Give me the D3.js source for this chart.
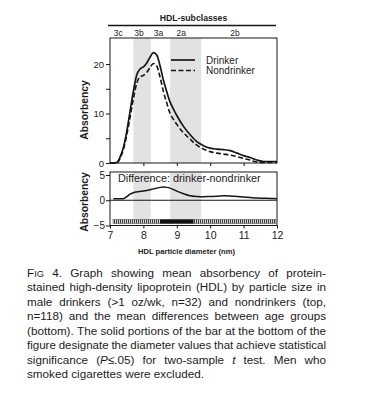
<!doctype html>
<html lang="en">
  <head>
    <meta charset="utf-8">
    <title>HDL particle size, drinkers vs nondrinkers</title>
    <script src="https://d3js.org/d3.v7.min.js"></script>
    <style>
      body { margin: 0; background: #fff; }
      svg text { font-family: "Liberation Sans", Arial, sans-serif; fill: #1c1c1c; }
    </style>
  </head>
  <body>
    <div id="chart"></div>
    <script>

      // values
      const diameter   = [7.0, 7.1, 7.2, 7.3, 7.4, 7.5, 7.6, 7.7, 7.8, 7.9, 8.0, 8.1, 8.2, 8.3, 8.4, 8.5, 8.6, 8.7, 8.8, 8.9, 9.0, 9.2, 9.4, 9.6, 9.8, 10.0, 10.2, 10.4, 10.6, 10.8, 11.0, 11.2, 11.4, 11.6, 11.8, 12.0];
      const drinker    = [0, 0, 0.1, 1.2, 3.1, 6.3, 10.4, 14.5, 17.8, 19.0, 19.4, 20.2, 21.4, 22.3, 21.8, 19.6, 16.7, 14.4, 12.3, 10.9, 9.6, 7.4, 5.7, 4.3, 3.5, 3.0, 2.8, 2.7, 2.5, 2.0, 1.5, 1.1, 0.6, 0.3, 0.3, 0.3];
      const nondrinker = [0, 0, 0, 0.9, 2.7, 5.6, 9.2, 13.0, 16.1, 17.4, 17.7, 18.3, 19.3, 20.1, 19.6, 17.3, 14.4, 12.1, 10.0, 8.8, 7.8, 6.1, 4.8, 3.6, 2.8, 2.3, 2.0, 1.8, 1.6, 1.3, 0.9, 0.6, 0.2, 0.1, 0.1, 0.1];

      const diffDiameter = [7.1, 7.4, 7.5, 7.6, 7.7, 7.8, 7.9, 8.0, 8.1, 8.2, 8.3, 8.4, 8.5, 8.6, 8.7, 8.8, 8.9, 9.0, 9.2, 9.4, 9.6, 9.8, 10.0, 10.2, 10.4, 10.6, 10.8, 11.0, 11.2, 11.4, 11.6, 11.8, 12.0];
      const difference   = [0.3, 0.3, 0.7, 1.2, 1.5, 1.65, 1.75, 1.85, 1.95, 2.1, 2.25, 2.4, 2.55, 2.6, 2.55, 2.4, 2.1, 1.8, 1.3, 0.9, 0.75, 0.7, 0.75, 0.8, 0.9, 0.85, 0.75, 0.65, 0.55, 0.45, 0.4, 0.35, 0.3];

      const subclassNames   = ["3c", "3b", "3a", "2a", "2b"];
      const subclassCenters = [7.25, 7.87, 8.45, 9.13, 10.74];
      const shadedBands     = [[7.7, 8.22], [8.8, 9.73]];
      const significant     = [[8.5, 9.5]];

      const xTicks      = [7, 8, 9, 10, 11, 12];
      const topTicks    = [0, 5, 10, 15, 20];
      const topLabels   = [0, 10, 20];
      const bottomTicks = [-5, 0, 5];

      const caption = [
        "F^IG^ 4.  Graph showing mean absorbency of protein-",
        "stained high-density lipoprotein (HDL) by particle size in",
        "male drinkers (>1 oz/wk, n=32) and nondrinkers (top,",
        "n=118) and the mean differences between age groups",
        "(bottom). The solid portions of the bar at the bottom of the",
        "figure designate the diameter values that achieve statistical",
        "significance (*P*≤.05) for two-sample *t* test. Men who",
        "smoked cigarettes were excluded."
      ];

      const W = 374, H = 400;
      const ink = "#161616";

      const svg = d3.select("#chart").append("svg")
        .attr("width", W)
        .attr("height", H)
        .attr("viewBox", `0 0 ${W} ${H}`);

      svg.append("rect").attr("width", W).attr("height", H).attr("fill", "#fff");

      // scales
      const x = d3.scaleLinear().domain([7, 12]).range([110, 277]);
      const yTop = d3.scaleLinear().domain([0, 20]).range([163, 64]);
      const yBot = d3.scaleLinear().domain([-5, 5]).range([225.5, 175]);

      const topBox = {y0: 38, y1: 163};
      const botBox = {y0: 172, y1: 225.5};

      // shaded subclass bands
      [topBox, botBox].forEach((b, i) => {
        svg.selectAll(null)
          .data(shadedBands)
          .enter()
          .append("rect")
            .attr("x", d => x(d[0]))
            .attr("width", d => x(d[1]) - x(d[0]))
            .attr("y", b.y0)
            .attr("height", (i == 0 ? b.y1 : 219.5) - b.y0)
            .attr("fill", "#e2e2e2");
      });

      // HDL-subclasses header
      svg.append("text")
        .attr("x", (x(7) + x(12)) / 2)
        .attr("y", 21)
        .attr("text-anchor", "middle")
        .attr("font-size", "8.7px")
        .attr("font-weight", "bold")
        .text("HDL-subclasses");
      svg.append("line")
        .attr("x1", x(7) - 2).attr("x2", x(12) - 1)
        .attr("y1", 25.5).attr("y2", 25.5)
        .attr("stroke", ink).attr("stroke-width", 1.3);
      svg.selectAll(null)
        .data(subclassNames)
        .enter()
        .append("text")
          .attr("x", (d, i) => x(subclassCenters[i]))
          .attr("y", 35.5)
          .attr("text-anchor", "middle")
          .attr("font-size", "8.5px")
          .text(d => d);

      // frames
      [topBox, botBox].forEach(b => {
        svg.append("rect")
          .attr("x", x(7)).attr("y", b.y0)
          .attr("width", x(12) - x(7)).attr("height", b.y1 - b.y0)
          .attr("fill", "none")
          .attr("stroke", ink)
          .attr("stroke-width", 1);
      });

      // top axes
      const topY = svg.append("g")
        .attr("transform", `translate(${x(7)},0)`)
        .call(d3.axisLeft(yTop).tickValues(topTicks).tickSize(4)
          .tickFormat(d => topLabels.includes(d) ? d : ""));
      topY.select(".domain").remove();
      topY.selectAll("text").attr("font-size", "9.5px").attr("x", -6);

      const topX = svg.append("g")
        .attr("transform", `translate(0,${topBox.y1})`)
        .call(d3.axisBottom(x).tickValues([8, 9, 10, 11]).tickSize(3).tickFormat(""));
      topX.select(".domain").remove();

      // legend
      const legend = [{name: "Drinker", dash: null}, {name: "Nondrinker", dash: "5,2.5"}];
      legend.forEach((d, i) => {
        svg.append("line")
          .attr("x1", 171).attr("x2", 195)
          .attr("y1", 60 + i * 10.5).attr("y2", 60 + i * 10.5)
          .attr("stroke", ink).attr("stroke-width", 1.7)
          .attr("stroke-dasharray", d.dash);
        svg.append("text")
          .attr("x", 206).attr("y", 63.5 + i * 10.5)
          .attr("font-size", "10px")
          .text(d.name);
      });

      // curves
      const line = d3.line()
        .x((d, i) => x(diameter[i]))
        .y(d => yTop(d))
        .curve(d3.curveMonotoneX);

      svg.append("path")
        .datum(nondrinker)
        .attr("d", line)
        .attr("fill", "none")
        .attr("stroke", ink)
        .attr("stroke-width", 1.6)
        .attr("stroke-dasharray", "5,2.5");

      svg.append("path")
        .datum(drinker)
        .attr("d", line)
        .attr("fill", "none")
        .attr("stroke", ink)
        .attr("stroke-width", 1.7);

      // bottom panel
      svg.append("line")
        .attr("x1", x(7)).attr("x2", x(12))
        .attr("y1", yBot(0)).attr("y2", yBot(0))
        .attr("stroke", ink).attr("stroke-width", 1.1);

      const diffLine = d3.line()
        .x((d, i) => x(diffDiameter[i]))
        .y(d => yBot(d))
        .curve(d3.curveMonotoneX);
      svg.append("path")
        .datum(difference)
        .attr("d", diffLine)
        .attr("fill", "none")
        .attr("stroke", ink)
        .attr("stroke-width", 1.5);

      svg.append("text")
        .attr("x", 118).attr("y", 182)
        .attr("font-size", "10.8px")
        .text("Difference: drinker-nondrinker");

      // hatched significance bar
      const pat = svg.append("defs").append("pattern")
        .attr("id", "hatch")
        .attr("patternUnits", "userSpaceOnUse")
        .attr("width", 2).attr("height", 4);
      pat.append("rect").attr("width", 2).attr("height", 4).attr("fill", "#d8d8d8");
      pat.append("rect").attr("width", 1).attr("height", 4).attr("fill", "#3a3a3a");

      svg.append("rect")
        .attr("x", x(7) + 3).attr("y", 219.5)
        .attr("width", x(12) - x(7) - 4).attr("height", 4)
        .attr("fill", "url(#hatch)")
        .attr("stroke", "#444").attr("stroke-width", 0.5);
      svg.selectAll(null)
        .data(significant)
        .enter()
        .append("rect")
          .attr("x", d => x(d[0]))
          .attr("width", d => x(d[1]) - x(d[0]))
          .attr("y", 219.5).attr("height", 4)
          .attr("fill", "#111");

      const botY = svg.append("g")
        .attr("transform", `translate(${x(7)},0)`)
        .call(d3.axisLeft(yBot).tickValues(bottomTicks).tickSize(4));
      botY.select(".domain").remove();
      botY.selectAll("text").attr("font-size", "10px").attr("x", -5);

      const botX = svg.append("g")
        .attr("transform", `translate(0,${botBox.y1})`)
        .call(d3.axisBottom(x).tickValues(xTicks).tickSize(3).tickFormat(d3.format("d")));
      botX.select(".domain").remove();
      botX.selectAll("text").attr("font-size", "10.5px").attr("y", 6);

      svg.selectAll(".tick line").attr("stroke", ink);
      svg.selectAll(".tick text").attr("fill", "#1c1c1c").attr("font-family", null);

      svg.append("text")
        .attr("x", (x(7) + x(12)) / 2 - 7)
        .attr("y", 254)
        .attr("text-anchor", "middle")
        .attr("font-size", "7.6px")
        .attr("font-weight", "bold")
        .text("HDL particle diameter (nm)");

      // y titles
      [[110, "Absorbency"], [202, "Absorbency"]].forEach(d => {
        svg.append("text")
          .attr("transform", `translate(88,${d[0]}) rotate(-90)`)
          .attr("text-anchor", "middle")
          .attr("font-size", "10.3px")
          .attr("font-weight", "bold")
          .text(d[1]);
      });

      // caption, justified word by word
      const capLeft = 27, capWidth = 299, capTop = 276.5, capStep = 14.5;
      const capSize = 11.7, minGap = 2.8;
      caption.forEach((ln, li) => {
        const words = ln.split(/ +/);
        const makeWords = fs => words.map(w => {
          const t = svg.append("text")
            .attr("y", capTop + li * capStep)
            .attr("font-size", fs + "px");
          w.split(/(\*[^*]+\*|\^[^^]+\^)/).filter(s => s.length).forEach(s => {
            const sp = t.append("tspan");
            if (s[0] == "*") sp.attr("font-style", "italic").text(s.slice(1, -1));
            else if (s[0] == "^") sp.attr("font-size", (fs * 0.8) + "px").text(s.slice(1, -1));
            else sp.text(s);
          });
          return t;
        });
        let fs = capSize;
        let nodes = makeWords(fs);
        let widths = nodes.map(n => n.node().getComputedTextLength());
        let total = d3.sum(widths);
        const last = li == caption.length - 1;
        // shrink a tight line a little so its words keep some space
        if (!last && total + minGap * (words.length - 1) > capWidth) {
          nodes.forEach(n => n.remove());
          fs = fs * (capWidth - minGap * (words.length - 1)) / total;
          nodes = makeWords(fs);
          widths = nodes.map(n => n.node().getComputedTextLength());
          total = d3.sum(widths);
        }
        const gap = last ? 3.3 : (capWidth - total) / (words.length - 1);
        let cx = capLeft;
        nodes.forEach((n, i) => {
          n.attr("x", cx);
          cx += widths[i] + gap;
        });
      });

    </script>
  </body>
</html>
